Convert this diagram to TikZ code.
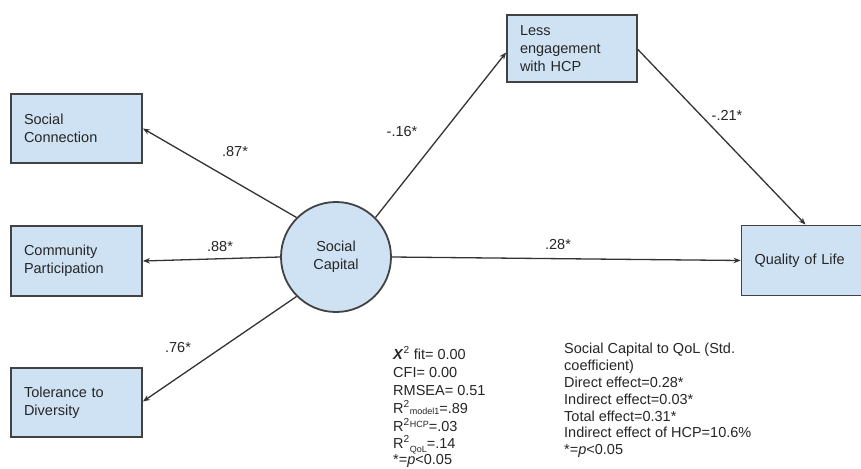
\documentclass[tikz,border=0pt]{standalone}
\usepackage{fontspec}
\setmainfont{Liberation Sans}
\usetikzlibrary{arrows.meta}
\definecolor{boxfill}{HTML}{CFE2F3}
\definecolor{boxline}{HTML}{424242}
\definecolor{arrline}{HTML}{333333}
\definecolor{txt}{HTML}{262626}
\newcommand{\smallsc}[1]{{\fontsize{9}{9}\selectfont #1}}
\begin{document}
\begin{tikzpicture}[x=1pt,y=-1pt,
  box/.style={draw=boxline, line width=1.8pt, fill=boxfill, align=left,
    inner xsep=13pt, inner ysep=0pt, font=\fontsize{14.5}{18}\selectfont, text=txt},
  capital/.style={circle, draw=boxline, line width=1.8pt, fill=boxfill, align=center,
    inner sep=0pt, minimum size=110pt, font=\fontsize{14.5}{18}\selectfont, text=txt},
  arr/.style={draw=arrline, line width=1.3pt, -{Stealth[length=7pt,width=5.5pt]}},
  lbl/.style={font=\fontsize{14.5}{17}\selectfont, text=txt, inner sep=0pt},
  stat/.style={font=\fontsize{14.5}{17}\selectfont, text=txt, inner sep=0pt, anchor=base west},
]
\useasboundingbox (0,0) rectangle (861,468);
\fill[white] (0,0) rectangle (861,468);

% boxes
\node[box, text width=105pt, minimum height=69pt] (scon) at (76.5,128.5) {Social\\Connection};
\node[box, text width=105pt, minimum height=70pt] (comm) at (76.5,261) {Community\\Participation};
\node[box, text width=105pt, minimum height=69pt] (tol) at (76.5,402.5) {Tolerance to\\Diversity};
\node[box, text width=104pt, minimum height=67pt] (less) at (572,48.5) {Less\\engagement\\with HCP};
\node[box, text width=108pt, minimum height=70pt] (qol) at (808.5,260.5) {Quality of Life};
\node[capital] (sc) at (336,257) {Social\\Capital};

% connectors
\draw[arr] (sc.north west) -- (scon.east);
\draw[arr] (sc.west) -- (comm.east);
\draw[arr] (sc.south west) -- ([yshift=1pt]tol.east);
\draw[arr] (sc.north east) -- ([yshift=-4pt]less.west);
\draw[arr] ([yshift=-1pt]less.east) -- ([xshift=-3pt]qol.north);
\draw[arr] (sc.east) -- (qol.west);

% path labels
\node[lbl] (l87) at (235,152) {.87*};
\node[lbl] (l88) at (220,247) {.88*};
\node[lbl] (l76) at (178,348) {.76*};
\node[lbl] (l16) at (402,132) {-.16*};
\node[lbl] (l21) at (727,115) {-.21*};
\node[lbl] (l28) at (558,245) {.28*};

% fit statistics
\node[stat] (s1) at (393,359) {\textbf{\textit{X}}\textsuperscript{2} fit= 0.00};
\node[stat] (s2) at (393,377) {CFI= 0.00};
\node[stat] (s3) at (393,395) {RMSEA= 0.51};
\node[stat] (s4) at (393,413) {R\textsuperscript{2}\raisebox{-1.5pt}{\smallsc{model1}}=.89};
\node[stat] (s5) at (393,431) {R\textsuperscript{2}\raisebox{4pt}{\smallsc{HCP}}=.03};
\node[stat] (s6) at (393,448) {R\textsuperscript{2}\raisebox{-4pt}{\smallsc{QoL}}=.14};
\node[stat] (s7) at (393,464) {*=\textit{p}<0.05};

% effects
\node[stat] (e1) at (564,353) {Social Capital to QoL (Std.};
\node[stat] (e2) at (564,370) {coefficient)};
\node[stat] (e3) at (564,387) {Direct effect=0.28*};
\node[stat] (e4) at (564,404) {Indirect effect=0.03*};
\node[stat] (e5) at (564,421) {Total effect=0.31*};
\node[stat] (e6) at (564,437) {Indirect effect of HCP=10.6\%};
\node[stat] (e7) at (564,454) {*=\textit{p}<0.05};
\end{tikzpicture}
\end{document}
